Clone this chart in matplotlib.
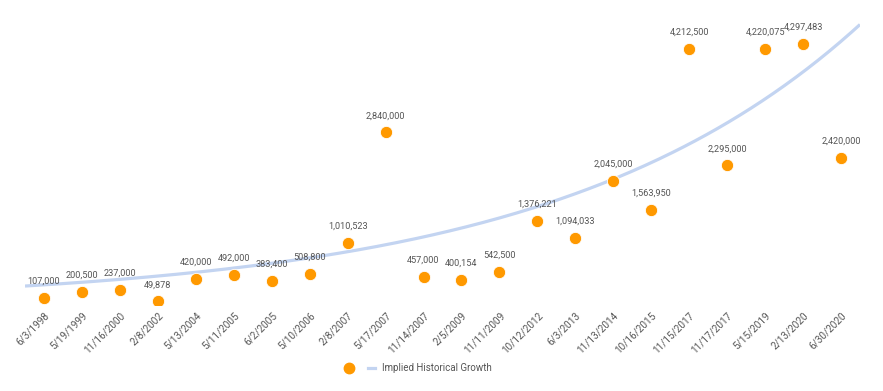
import numpy as np
import matplotlib
matplotlib.use("Agg")
import matplotlib.pyplot as plt
from matplotlib.lines import Line2D

plt.rcParams['font.family'] = ['Roboto', 'DejaVu Sans']

dates = ["6/3/1998", "5/19/1999", "11/16/2000", "2/8/2002", "5/13/2004", "5/11/2005",
         "6/2/2005", "5/10/2006", "2/8/2007", "5/17/2007", "11/14/2007", "2/5/2009",
         "11/11/2009", "10/12/2012", "6/3/2013", "11/13/2014", "10/16/2015", "11/15/2017",
         "11/17/2017", "5/15/2019", "2/13/2020", "6/30/2020"]
values = [107000, 200500, 237000, 49878, 420000, 492000, 383400, 508800, 1010523, 2840000,
          457000, 400154, 542500, 1376221, 1094033, 2045000, 1563950, 4212500, 2295000,
          4220075, 4297483, 2420000]
trend_label = "Implied Historical Growth"
# implied growth curve: value at first date and growth per step
trend_start = 324000
trend_rate = 0.1236

x = np.arange(len(dates))
y = np.array(values, dtype=float)

fig = plt.figure(figsize=(8.83, 3.91), dpi=100)
ax = fig.add_axes([25 / 883, (391 - 304.5) / 391, 835 / 883, 303 / 391])

xt = np.linspace(-0.5, len(dates) - 0.5, 300)
ax.plot(xt, trend_start * np.exp(trend_rate * xt), color='#c3d4f1', lw=2.3, zorder=2,
        solid_capstyle='butt')
ax.scatter(x, y, s=78, color='#ff9900', edgecolors='white', linewidths=0.6, zorder=3)

for xi, yi in zip(x, values):
    ax.annotate(f"{yi:,}", (xi, yi), xytext=(0, 12), textcoords='offset points',
                ha='center', va='center', fontsize=6.6, color='#555555',
                annotation_clip=False, zorder=4)

ax.set_xlim(-0.5, len(dates) - 0.5)
ax.set_ylim(0, 5.0e6)
ax.set_xticks(x)
ax.set_xticklabels(dates, rotation=45, ha='right', rotation_mode='anchor',
                   fontsize=7.2, color='#555555')
ax.tick_params(axis='x', length=0, pad=4)
ax.set_yticks([])
for s in ax.spines.values():
    s.set_visible(False)

handles = [Line2D([], [], marker='o', linestyle='none', color='#ff9900', markersize=7.5),
           Line2D([], [], color='#c3d4f1', lw=2.3)]
fig.legend(handles, ['', trend_label], loc='center', bbox_to_anchor=(0.474, 0.059),
           ncol=2, frameon=False, fontsize=7.0, handlelength=0.8, handletextpad=0.7,
           columnspacing=0.8, labelcolor='#555555')

fig.savefig("out.png", dpi=100)
